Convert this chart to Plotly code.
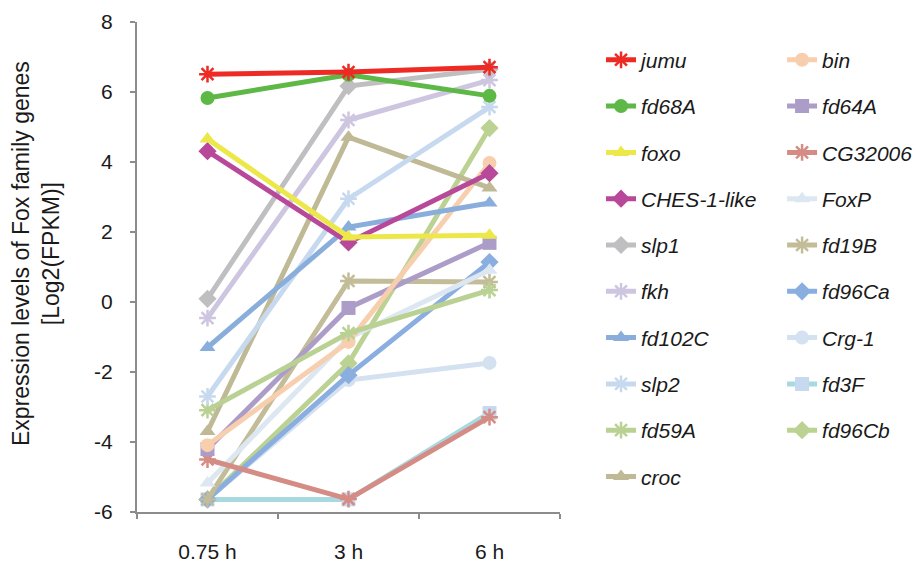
import plotly.graph_objects as go

times = ["0.75 h", "3 h", "6 h"]

genes = ["jumu", "fd68A", "foxo", "CHES-1-like", "slp1", "fkh", "fd102C", "slp2", "fd59A", "croc",
         "bin", "fd64A", "CG32006", "FoxP", "fd19B", "fd96Ca", "Crg-1", "fd3F", "fd96Cb"]

jumu = [6.51, 6.57, 6.71]
fd68A = [5.83, 6.49, 5.89]
foxo = [4.66, 1.86, 1.91]
ches1like = [4.31, 1.70, 3.68]
slp1 = [0.09, 6.17, 6.65]
fkh = [-0.46, 5.20, 6.34]
fd102C = [-1.30, 2.14, 2.83]
slp2 = [-2.70, 2.95, 5.57]
fd59A = [-3.09, -0.89, 0.34]
croc = [-3.70, 4.71, 3.26]
bin_ = [-4.09, -1.14, 3.97]
fd64A = [-4.20, -0.17, 1.69]
cg32006 = [-4.50, -5.63, -3.29]
foxp = [-5.17, -1.03, 0.91]
fd19B = [-5.64, 0.60, 0.57]
fd96Ca = [-5.64, -2.09, 1.14]
crg1 = [-5.64, -2.23, -1.74]
fd3F = [-5.64, -5.64, -3.17]
fd96Cb = [-5.64, -1.75, 4.97]

values = [jumu, fd68A, foxo, ches1like, slp1, fkh, fd102C, slp2, fd59A, croc,
          bin_, fd64A, cg32006, foxp, fd19B, fd96Ca, crg1, fd3F, fd96Cb]

y_tickvals = [-6, -4, -2, 0, 2, 4, 6, 8]
y_ticktext = ["-6", "-4", "-2", "0", "2", "4", "6", "8"]

colors = ["#EE2A24", "#5DB845", "#EDE84A", "#B8489A", "#BFBFC1", "#CEC6E0", "#8AAEDC", "#C6D9EF",
          "#B9D192", "#BFB995", "#F8CFAE", "#AC9CC8", "#D58C85", "#DDE7F2", "#C3BC98", "#8AAEDF",
          "#D4E1F0", "#A8D8E0", "#BCD292"]
symbols = ["asterisk-open", "circle", "triangle-up", "diamond", "diamond", "asterisk-open",
           "triangle-up", "asterisk-open", "asterisk-open", "triangle-up", "circle", "square",
           "asterisk-open", "triangle-up", "asterisk-open", "diamond", "circle", "square", "diamond"]
marker_colors = {"fd3F": "#C6D9EF"}

fig = go.Figure()
# draw in reverse so the first series ends up on top; legend order set by legendrank
for i in reversed(range(len(genes))):
    g, v, c, s = genes[i], values[i], colors[i], symbols[i]
    mc = marker_colors.get(g, c)
    marker = dict(symbol=s, size=14, color=mc)
    if s.endswith("-open"):
        marker["line"] = dict(color=c, width=2.5)
    fig.add_trace(go.Scatter(
        x=times, y=v, name=g, mode="lines+markers",
        line=dict(color=c, width=5), marker=marker,
        legendrank=i + 1, legendgroup=g,
        legend="legend" if i < 10 else "legend2",
    ))

axis_col = "#8C8C8C"
leg_common = dict(xanchor="left", yanchor="top", traceorder="grouped", tracegroupgap=16,
                  font=dict(size=21, style="italic", color="#1a1a1a"), bgcolor="rgba(0,0,0,0)")
# the page places the figure 8 px in from the top-left corner, so size and margins allow for it
fig.update_layout(
    width=913, height=555,
    margin=dict(l=129, r=361, t=14, b=51, autoexpand=False),
    paper_bgcolor="white", plot_bgcolor="white",
    font=dict(family="Liberation Sans, Arial, sans-serif", size=21, color="#1a1a1a"),
    showlegend=True,
    legend=dict(x=1.097, y=0.964, **leg_common),
    legend2=dict(x=1.525, y=0.964, **leg_common),
    annotations=[dict(
        text="Expression levels of Fox family genes<br>[Log2(FPKM)]",
        textangle=-90, xref="paper", yref="paper", x=-0.2388, y=0.5286,
        xanchor="center", yanchor="middle", showarrow=False,
        font=dict(size=23, color="#1a1a1a"),
    )],
)
fig.update_xaxes(
    type="category", range=[-0.5, 2.5], showline=True, linecolor=axis_col, linewidth=2,
    ticks="outside", tickson="boundaries", ticklen=5, tickcolor=axis_col, tickwidth=2,
    showgrid=False, zeroline=False, ticklabelstandoff=20, tickfont=dict(size=21),
    automargin=False,
)
fig.update_yaxes(
    range=[-6, 8], tickvals=y_tickvals, ticktext=y_ticktext, showline=True, linecolor=axis_col,
    linewidth=2, ticks="outside", ticklen=5, tickcolor=axis_col, tickwidth=2, showgrid=False,
    zeroline=False, ticklabelstandoff=13, tickfont=dict(size=21), automargin=False,
)

fig.write_html("out.html")
